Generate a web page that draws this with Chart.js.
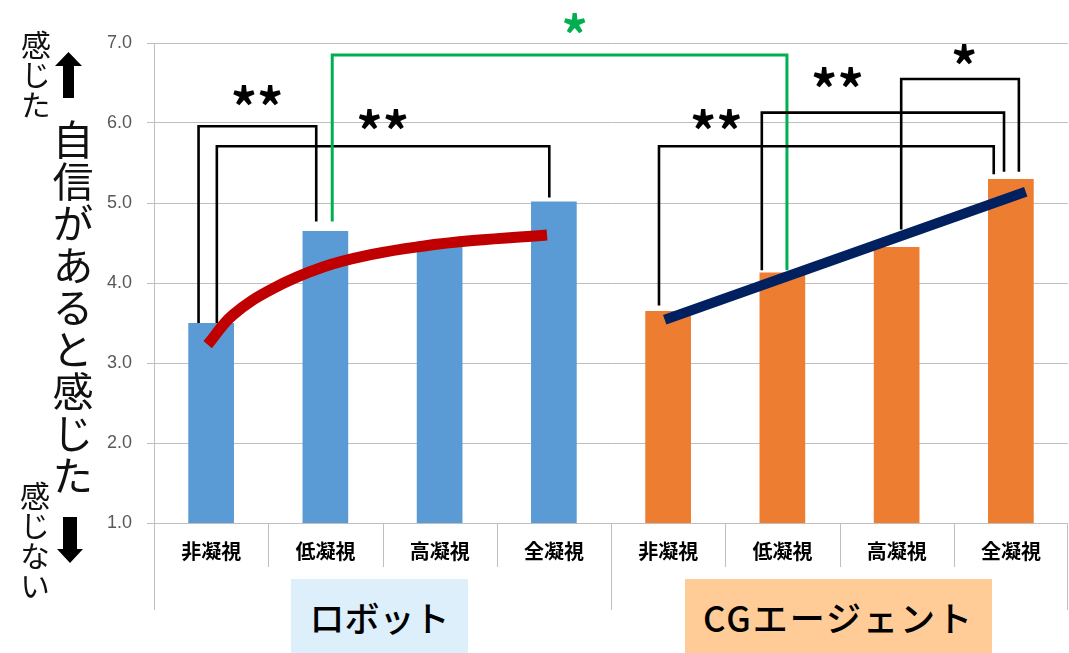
<!DOCTYPE html>
<html lang="ja">
<head>
<meta charset="utf-8">
<title>自信があると感じた</title>
<script src="https://cdn.jsdelivr.net/npm/chart.js@4.4.1/dist/chart.umd.min.js"></script>
<style>
  html, body { margin: 0; padding: 0; background: #fff; }
  #wrap { position: relative; width: 1069px; height: 653px; overflow: hidden; }
  #chart { position: absolute; left: 0; top: 0; }
  .vt {
    position: absolute;
    writing-mode: vertical-rl;
    text-orientation: upright;
    font-family: "Noto Sans CJK JP", sans-serif;
    color: #111;
    line-height: 1;
    white-space: nowrap;
  }
  .group {
    position: absolute;
    top: 579px;
    height: 74px;
    font-family: "Noto Sans CJK JP", sans-serif;
    font-size: 35px;
    font-weight: 500;
    color: #000;
    display: flex;
    align-items: center;
    justify-content: center;
  }
  .arrow { position: absolute; }
</style>
</head>
<body>
<div id="wrap">
  <canvas id="chart" width="1069" height="653"></canvas>

  <div class="vt" style="left:21px; top:30px; font-size:30px;">感じた</div>
  <div class="vt" style="left:52px; top:119px; font-size:41px; letter-spacing:1px;">自信があると感じた</div>
  <div class="vt" style="left:20px; top:481px; font-size:30px;">感じない</div>

  <svg class="arrow" style="left:55px; top:52px;" width="27" height="46" viewBox="0 0 27 46">
    <polygon points="13.5,0 27,14 19,14 19,46 8,46 8,14 0,14" fill="#000"/>
  </svg>
  <svg class="arrow" style="left:57px; top:517px;" width="26" height="46" viewBox="0 0 26 46">
    <polygon points="6,0 20,0 20,32 26,32 13,46 0,32 6,32" fill="#000"/>
  </svg>

  <div class="group" style="left:291px; width:177px; background:#DCEFFB;">ロボット</div>
  <div class="group" style="left:685px; width:307px; background:#FFCB96; letter-spacing:2px;">CGエージェント</div>
</div>

<script>
// ===== Data =====
const categories = ["非凝視", "低凝視", "高凝視", "全凝視", "非凝視", "低凝視", "高凝視", "全凝視"];
const scores = [3.5, 4.65, 4.52, 5.02, 3.65, 4.13, 4.45, 5.3];
const barColors = ["#5B9BD5", "#5B9BD5", "#5B9BD5", "#5B9BD5", "#ED7D31", "#ED7D31", "#ED7D31", "#ED7D31"];
const yTicks = [1, 2, 3, 4, 5, 6, 7];

// trend lines (x = category position, 0 = first bar)
const robotTrendX = [-0.03, 0.19, 0.54, 0.98, 1.42, 1.85, 2.29, 2.94];
const robotTrendY = [3.23, 3.6, 3.93, 4.2, 4.36, 4.46, 4.53, 4.6];
const cgTrendX = [3.97, 7.13];
const cgTrendY = [3.54, 5.14];

// significance brackets: [leftX, leftBottom, rightX, rightBottom, top, color]
const brackets = [
  [-0.11, 3.5, 0.92, 4.77, 5.96, "#000000"],
  [0.05, 3.5, 2.96, 5.07, 5.71, "#000000"],
  [1.06, 4.77, 5.04, 4.16, 6.85, "#00B050"],
  [3.92, 3.72, 6.85, 5.36, 5.71, "#000000"],
  [4.82, 4.16, 6.94, 5.39, 6.13, "#000000"],
  [6.04, 4.67, 7.07, 5.39, 6.55, "#000000"]
];
// star labels: [x, y, text, color]
const stars = [
  [0.4, 6.34, "**", "#000000"],
  [1.5, 6.05, "**", "#000000"],
  [3.18, 7.24, "*", "#00B050"],
  [4.42, 6.04, "**", "#000000"],
  [5.48, 6.57, "**", "#000000"],
  [6.59, 6.86, "*", "#000000"]
];

// ===== Plugin: brackets, stars, separators =====
const annot = {
  id: "annot",
  afterDatasetDraw(chart, args) {
    if (args.meta.type !== "bar") return;
    const xs = chart.scales.x2;
    const ys = chart.scales.y;
    const ctx = chart.ctx;
    ctx.save();
    ctx.lineJoin = "miter";
    ctx.lineCap = "butt";
    brackets.forEach(b => {
      ctx.strokeStyle = b[5];
      ctx.lineWidth = b[5] === "#000000" ? 2.6 : 3;
      ctx.beginPath();
      ctx.moveTo(xs.getPixelForValue(b[0]), ys.getPixelForValue(b[1]));
      ctx.lineTo(xs.getPixelForValue(b[0]), ys.getPixelForValue(b[4]));
      ctx.lineTo(xs.getPixelForValue(b[2]), ys.getPixelForValue(b[4]));
      ctx.lineTo(xs.getPixelForValue(b[2]), ys.getPixelForValue(b[3]));
      ctx.stroke();
    });
    ctx.restore();
  },
  afterDraw(chart) {
    const xs = chart.scales.x2;
    const ys = chart.scales.y;
    const ctx = chart.ctx;
    const area = chart.chartArea;
    ctx.save();

    // category separators under the axis
    ctx.strokeStyle = "#BFBFBF";
    ctx.lineWidth = 1;
    for (let i = 0; i <= categories.length; i++) {
      let x = Math.round(xs.getPixelForValue(i - 0.5)) + 0.5;
      if (i === categories.length) x -= 1;
      const long = i % 4 === 0;
      ctx.beginPath();
      ctx.moveTo(x, area.bottom);
      ctx.lineTo(x, area.bottom + (long ? 87 : 44));
      ctx.stroke();
    }

    // stars
    ctx.font = "bold 52px 'Noto Sans CJK JP', sans-serif";
    ctx.textAlign = "left";
    ctx.textBaseline = "alphabetic";
    stars.forEach(s => {
      const m = ctx.measureText(s[2]);
      const cx = xs.getPixelForValue(s[0]);
      const cy = ys.getPixelForValue(s[1]);
      ctx.fillStyle = s[3];
      const x = cx - (m.actualBoundingBoxRight - m.actualBoundingBoxLeft) / 2;
      const y = cy + (m.actualBoundingBoxAscent - m.actualBoundingBoxDescent) / 2;
      ctx.fillText(s[2], x, y);
    });
    ctx.restore();
  }
};

// ===== Chart =====
const ctx = document.getElementById("chart").getContext("2d");

new Chart(ctx, {
  type: "bar",
  data: {
    labels: categories,
    datasets: [
      {
        type: "line",
        xAxisID: "x2",
        data: robotTrendX.map((x, i) => ({ x, y: robotTrendY[i] })),
        borderColor: "#C00000",
        borderWidth: 11,
        borderCapStyle: "butt",
        tension: 0.4,
        pointRadius: 0,
        fill: false,
        order: 1
      },
      {
        type: "line",
        xAxisID: "x2",
        data: cgTrendX.map((x, i) => ({ x, y: cgTrendY[i] })),
        borderColor: "#002060",
        borderWidth: 10,
        borderCapStyle: "butt",
        pointRadius: 0,
        fill: false,
        order: 1
      },
      {
        type: "bar",
        data: scores,
        backgroundColor: barColors,
        grouped: false,
        barPercentage: 0.4,
        categoryPercentage: 1,
        order: 3
      }
    ]
  },
  options: {
    responsive: false,
    animation: false,
    devicePixelRatio: 1,
    layout: { padding: { left: 94, top: 43, right: 1, bottom: 0 } },
    plugins: {
      legend: { display: false },
      tooltip: { enabled: false }
    },
    scales: {
      x: {
        offset: true,
        grid: { display: false },
        border: { display: false },
        ticks: {
          color: "#000",
          padding: 8,
          font: { family: "'Noto Sans CJK JP', sans-serif", size: 20, weight: "bold" }
        },
        afterFit(scale) { scale.height = 130; }
      },
      x2: {
        type: "linear",
        display: false,
        offset: false,
        grid: { offset: false },
        min: -0.5,
        max: 7.5
      },
      y: {
        min: 1,
        max: 7,
        afterBuildTicks(scale) { scale.ticks = yTicks.map(v => ({ value: v })); },
        grid: { color: "#BFBFBF", lineWidth: 1, tickLength: 7 },
        border: { color: "#BFBFBF" },
        ticks: {
          color: "#595959",
          padding: 15,
          font: { family: "'Liberation Sans', Arial, sans-serif", size: 18 },
          callback: v => Number(v).toFixed(1)
        },
        afterFit(scale) { scale.width = 60; }
      }
    }
  },
  plugins: [annot]
});
</script>
</body>
</html>
